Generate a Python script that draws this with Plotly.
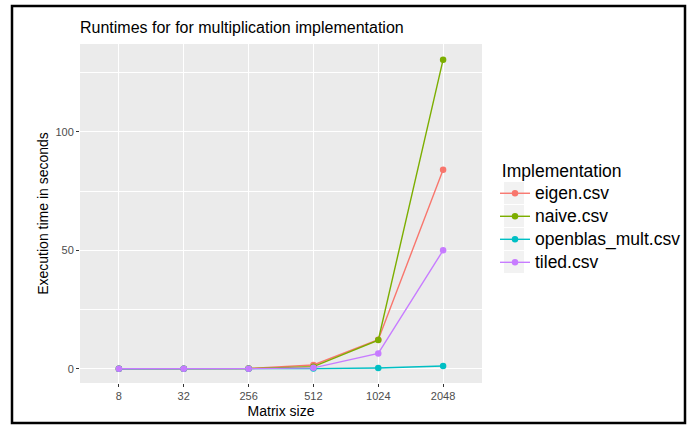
import plotly.graph_objects as go

# Matrix sizes benchmarked (treated as discrete categories)
sizes = ["8", "32", "256", "512", "1024", "2048"]

# Execution times in seconds per implementation
eigen = [0.0, 0.0, 0.15, 1.6, 12.3, 84.0]
naive = [0.0, 0.0, 0.1, 0.9, 12.1, 130.5]
openblas = [0.0, 0.0, 0.02, 0.08, 0.35, 1.2]
tiled = [0.0, 0.0, 0.05, 0.4, 6.5, 50.0]

series_names = ["eigen.csv", "naive.csv", "openblas_mult.csv", "tiled.csv"]
series_values = [eigen, naive, openblas, tiled]
series_colors = ["#F8766D", "#7CAE00", "#00BFC4", "#C77CFF"]

W, H = 691, 425
L, R, T, B = 80, 209, 44, 42
PW, PH = W - L - R, H - T - B


def px(x):
    return (x - L) / PW


def py(y):
    return (H - B - y) / PH


FONT = "Liberation Sans, Arial, sans-serif"

fig = go.Figure()
for name, vals, col in zip(series_names, series_values, series_colors):
    fig.add_trace(go.Scatter(
        x=sizes, y=vals, mode="lines+markers",
        name='<span style="font-size:17.5px">%s</span>' % name,
        line=dict(color=col, width=1.4),
        marker=dict(color=col, size=6.5),
    ))

shapes = []
# grey key backgrounds behind legend entries
for i in range(4):
    yc = 193 + i * 23
    shapes.append(dict(type="rect", xref="paper", yref="paper",
                       x0=px(504), x1=px(524), y0=py(yc - 11), y1=py(yc + 11),
                       fillcolor="#F2F2F2", line=dict(width=0), layer="below"))
# outer frame
shapes.append(dict(type="rect", xref="paper", yref="paper",
                   x0=px(12), x1=px(685), y0=py(423), y1=py(6),
                   line=dict(color="black", width=2.5), layer="above"))

fig.update_layout(
    width=W, height=H,
    margin=dict(l=L, r=R, t=T, b=B, autoexpand=False),
    paper_bgcolor="white", plot_bgcolor="#EBEBEB",
    font=dict(family=FONT, color="#000000"),
    title=dict(text="Runtimes for for multiplication implementation",
               x=px(80), xref="paper", xanchor="left",
               y=1 - 27 / H, yanchor="middle",
               font=dict(size=16, color="#000000")),
    xaxis=dict(
        type="category", range=[-0.6, 5.6], automargin=False,
        showgrid=True, gridcolor="white", gridwidth=1.1,
        ticks="outside", ticklen=3, tickcolor="#333333", tickwidth=1,
        tickfont=dict(size=11, color="#4D4D4D"),
        zeroline=False, showline=False,
        title=dict(text="Matrix size", font=dict(size=14), standoff=4),
    ),
    yaxis=dict(
        range=[-6.0, 137.1], tickvals=[0, 50, 100], automargin=False,
        showgrid=True, gridcolor="white", gridwidth=1.1,
        minor=dict(tickvals=[25, 75, 125], showgrid=True,
                   gridcolor="white", gridwidth=0.55, ticks=""),
        ticks="outside", ticklen=3, tickcolor="#333333", tickwidth=1,
        tickfont=dict(size=11, color="#4D4D4D"),
        zeroline=False, showline=False,
        title=dict(text="Execution time in seconds", font=dict(size=14), standoff=3),
    ),
    legend=dict(
        xref="container", yref="container",
        x=495 / W, y=1 - 154 / H, xanchor="left", yanchor="top",
        bgcolor="rgba(0,0,0,0)",
        title=dict(text="\u00a0Implementation", font=dict(size=17.5)),
        font=dict(size=15.4), tracegroupgap=0, itemwidth=30,
    ),
    shapes=shapes,
    showlegend=True,
)

fig.write_html("out.html")
